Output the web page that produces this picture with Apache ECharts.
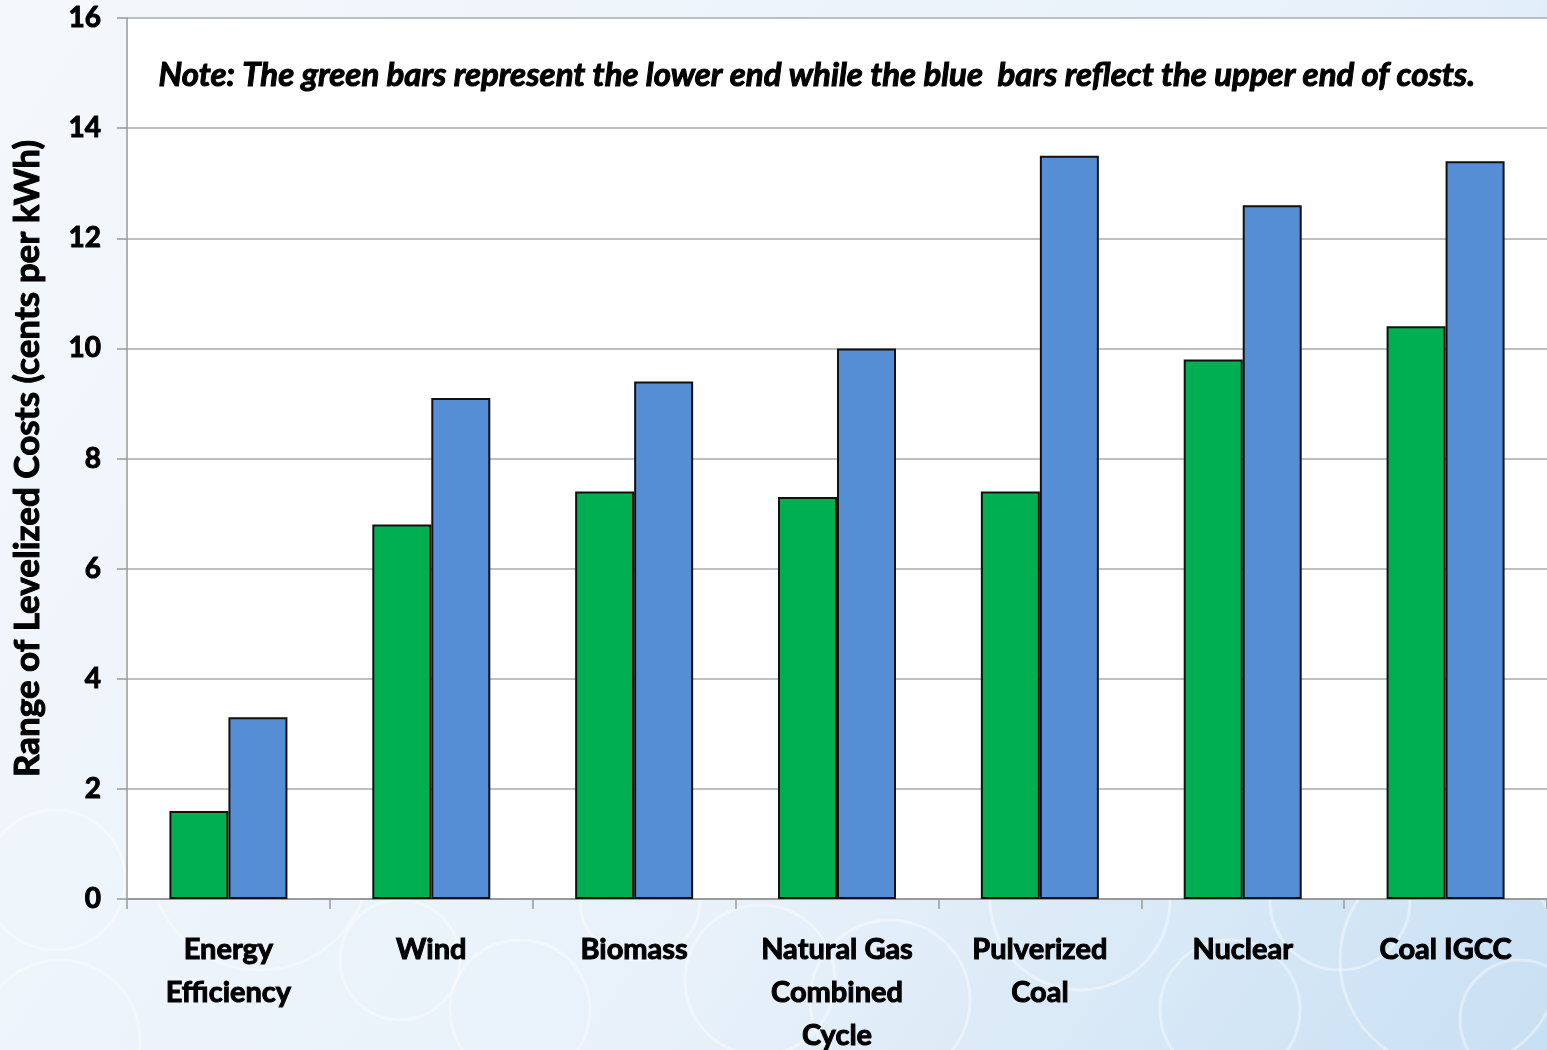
<!DOCTYPE html>
<html>
<head>
<meta charset="utf-8">
<script src="https://cdn.jsdelivr.net/npm/echarts@6/dist/echarts.min.js"></script>
<style>
  html, body { margin: 0; padding: 0; }
  #chart { width: 1547px; height: 1050px; }
</style>
</head>
<body>
<div id="chart"></div>
<script>
const categories = [
  "Energy\nEfficiency",
  "Wind",
  "Biomass",
  "Natural Gas\nCombined\nCycle",
  "Pulverized\nCoal",
  "Nuclear",
  "Coal IGCC",
];
const lowerEnd = [1.6, 6.8, 7.4, 7.3, 7.4, 9.8, 10.4];
const upperEnd = [3.3, 9.1, 9.4, 10.0, 13.5, 12.6, 13.4];

const font = "Lato, 'Open Sans', sans-serif";
// heavy text: bold face plus a thin outline of the same colour
const heavy = { color: "#000", fontFamily: font, fontWeight: "bold", textBorderColor: "#000", textBorderWidth: 1 };

// decorative bubbles in the background
const bubbles = [
  [55, 880, 70], [260, 860, 110], [520, 1010, 70], [640, 900, 60], [890, 1000, 80],
  [1080, 900, 90], [1230, 1010, 70], [1450, 960, 110], [60, 1040, 80], [400, 960, 60],
  [760, 980, 75], [1340, 900, 70], [1520, 1020, 60],
];

const chart = echarts.init(document.getElementById("chart"));
chart.setOption({
  backgroundColor: {
    type: "linear", x: 0, y: 0, x2: 1, y2: 1,
    colorStops: [
      { offset: 0, color: "#f4f8fc" },
      { offset: 0.6, color: "#e8f1fa" },
      { offset: 1, color: "#c8e0f3" },
    ],
  },
  graphic: bubbles.map((b) => ({
    type: "circle",
    z: -10,
    shape: { cx: b[0], cy: b[1], r: b[2] },
    style: { fill: "none", stroke: "rgba(255,255,255,0.4)", lineWidth: 3 },
  })).concat([{
    type: "text",
    left: 158,
    top: 58,
    style: {
      text: "Note: The green bars represent the lower end while the blue  bars reflect the upper end of costs.",
      font: "italic bold 33px " + font,
      fill: "#000",
      stroke: "#000",
      lineWidth: 1,
    },
  }]),
  grid: {
    left: 127,
    right: 0,
    top: 18,
    bottom: 151,
    outerBoundsMode: "none",
    show: true,
    backgroundColor: "#ffffff",
    borderWidth: 0,
  },
  xAxis: {
    type: "category",
    data: categories,
    axisLine: { lineStyle: { color: "#999", width: 2 } },
    axisTick: { show: true, length: 10, lineStyle: { color: "#999", width: 1.5 } },
    axisLabel: Object.assign({
      interval: 0,
      margin: 29,
      fontSize: 29,
      lineHeight: 43,
    }, heavy),
  },
  yAxis: {
    type: "value",
    min: 0,
    max: 16,
    interval: 2,
    name: "Range of Levelized Costs (cents per kWh)",
    nameLocation: "middle",
    nameGap: 82,
    nameTextStyle: Object.assign({ fontSize: 35 }, heavy),
    axisLine: { show: true, lineStyle: { color: "#999", width: 1.5 } },
    axisTick: { show: true, length: 10, lineStyle: { color: "#999", width: 1.5 } },
    axisLabel: Object.assign({ margin: 26, fontSize: 28 }, heavy),
    splitLine: { lineStyle: { color: "#aaa", width: 1.5 } },
  },
  series: [
    {
      name: "Lower end",
      type: "bar",
      data: lowerEnd,
      barWidth: 59,
      barGap: "0%",
      itemStyle: { color: "#00b050", borderColor: "#111", borderWidth: 2 },
    },
    {
      name: "Upper end",
      type: "bar",
      data: upperEnd,
      barWidth: 59,
      itemStyle: { color: "#558ed5", borderColor: "#111", borderWidth: 2 },
    },
  ],
});
</script>
</body>
</html>
